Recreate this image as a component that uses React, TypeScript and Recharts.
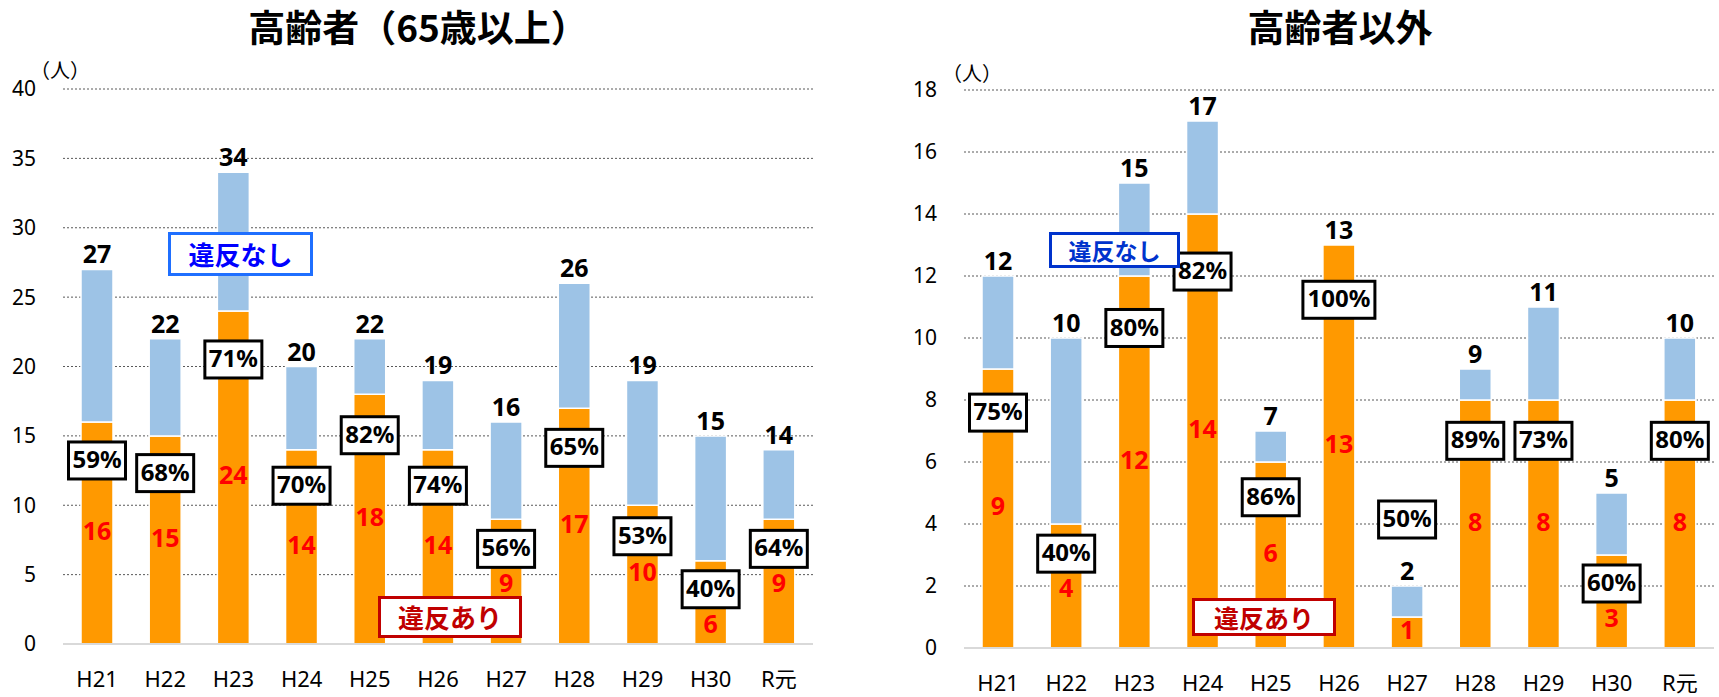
import { BarChart, Bar, XAxis, YAxis, CartesianGrid, LabelList } from "recharts";

const years = ["H21", "H22", "H23", "H24", "H25", "H26", "H27", "H28", "H29", "H30", "R元"];

// 高齢者（65歳以上）
const elderViolation = [16, 15, 24, 14, 18, 14, 9, 17, 10, 6, 9];
const elderNoViolation = [11, 7, 10, 6, 4, 5, 7, 9, 9, 9, 5];
const elderRate = [59, 68, 71, 70, 82, 74, 56, 65, 53, 40, 64];
const elderTicks = [0, 5, 10, 15, 20, 25, 30, 35, 40];

// 高齢者以外
const otherViolation = [9, 4, 12, 14, 6, 13, 1, 8, 8, 3, 8];
const otherNoViolation = [3, 6, 3, 3, 1, 0, 1, 1, 3, 2, 2];
const otherRate = [75, 40, 80, 82, 86, 100, 50, 89, 73, 60, 80];
const otherTicks = [0, 2, 4, 6, 8, 10, 12, 14, 16, 18];

const ORANGE = "#FF9900";
const BLUE = "#9DC3E6";
const FONT = "'Noto Sans', 'Noto Sans CJK JP', sans-serif";
const JP = "'Noto Sans CJK JP', sans-serif";

const buildRows = (v: number[], n: number[], r: number[]) =>
  years.map((year, i) => ({
    year,
    violation: v[i],
    none: n[i],
    total: v[i] + n[i],
    rate: r[i],
  }));

const elderRows = buildRows(elderViolation, elderNoViolation, elderRate);
const otherRows = buildRows(otherViolation, otherNoViolation, otherRate);

// all labels of one column, drawn from the geometry of the orange (lower) segment
const columnLabels = (rows: any[]) => (props: any) => {
  const vb = props.viewBox ?? props;
  const x = vb.x ?? props.x;
  const y = vb.y ?? props.y;
  const width = vb.width ?? props.width;
  const height = vb.height ?? props.height;
  const row = rows[props.index];
  if (!row || x == null) return null;

  const cx = x + width / 2;
  const unit = height / row.violation;
  const topY = y - unit * row.none;

  const text = `${row.rate}%`;
  const boxW = text.length * 15 + 12;
  const boxH = 37;
  // small orange segment: the box floats above the column
  const boxTop = height < 60 ? topY - 48 - boxH : y + Math.max(10, height * 0.09);
  const redY = height < 60 ? y + height / 2 : Math.max(y + height / 2, boxTop + boxH + 18);

  return (
    <g>
      <text
        x={cx}
        y={topY - 6}
        textAnchor="middle"
        fontSize={25}
        fontWeight="bold"
        fontFamily={FONT}
        fill="#000"
      >
        {row.total}
      </text>
      <rect x={cx - boxW / 2} y={boxTop} width={boxW} height={boxH} fill="#fff" stroke="#000" strokeWidth={3} />
      <text
        x={cx}
        y={boxTop + boxH / 2 + 1}
        textAnchor="middle"
        dominantBaseline="middle"
        fontSize={24}
        fontWeight="bold"
        fontFamily={FONT}
        fill="#000"
      >
        {text}
      </text>
      <text
        x={cx}
        y={redY}
        textAnchor="middle"
        dominantBaseline="middle"
        fontSize={25}
        fontWeight="bold"
        fontFamily={FONT}
        fill="#FF0000"
      >
        {row.violation}
      </text>
    </g>
  );
};

function Panel({ rows, ticks, max, width, yWidth, top, right, xHeight }: any) {
  return (
    <BarChart
      width={width}
      height={697}
      data={rows}
      margin={{ top, right, bottom: 0, left: 0 }}
      barSize={32}
    >
      <CartesianGrid vertical={false} stroke="#595959" strokeDasharray="2 2" />
      <XAxis
        dataKey="year"
        height={xHeight}
        tickLine={false}
        axisLine={{ stroke: "#D9D9D9", strokeWidth: 2 }}
        tickSize={6}
        tickMargin={21}
        tick={{ fontSize: 22, fill: "#000", fontFamily: FONT }}
        interval={0}
      />
      <YAxis
        width={yWidth}
        domain={[0, max]}
        ticks={ticks}
        axisLine={false}
        tickLine={false}
        tickSize={6}
        tickMargin={21}
        tick={{ fontSize: 21, fill: "#000", fontFamily: FONT }}
        interval={0}
      />
      <Bar dataKey="violation" stackId="a" fill={ORANGE} stroke="#fff" strokeWidth={1.5} isAnimationActive={false}>
        <LabelList dataKey="violation" content={columnLabels(rows)} />
      </Bar>
      <Bar dataKey="none" stackId="a" fill={BLUE} stroke="#fff" strokeWidth={1.5} isAnimationActive={false} />
    </BarChart>
  );
}

const legendBox = (
  text: string,
  left: number,
  top: number,
  w: number,
  h: number,
  color: string,
  border: string,
  size: number
) => (
  <div
    style={{
      position: "absolute",
      left,
      top,
      width: w,
      height: h,
      boxSizing: "border-box",
      border: `3px solid ${border}`,
      background: "#fff",
      color,
      fontFamily: JP,
      fontWeight: "bold",
      fontSize: size,
      display: "flex",
      alignItems: "center",
      justifyContent: "center",
      lineHeight: 1,
    }}
  >
    {text}
  </div>
);

export default function App() {
  return (
    <div
      style={{
        position: "absolute",
        left: 0,
        top: 0,
        width: 1719,
        height: 697,
        background: "#fff",
        fontFamily: FONT,
        overflow: "hidden",
      }}
    >
      <div style={{ position: "absolute", left: 0, top: 0 }}>
        <Panel rows={elderRows} ticks={elderTicks} max={40} width={840} yWidth={63} top={89} right={27} xHeight={53} />
      </div>
      <div style={{ position: "absolute", left: 840, top: 0 }}>
        <Panel rows={otherRows} ticks={otherTicks} max={18} width={879} yWidth={124} top={90} right={5} xHeight={49} />
      </div>

      <div
        style={{
          position: "absolute",
          left: 218,
          top: 4,
          width: 400,
          textAlign: "center",
          fontFamily: JP,
          fontWeight: "bold",
          fontSize: 37,
          lineHeight: "44px",
        }}
      >
        高齢者（65歳以上）
      </div>
      <div
        style={{
          position: "absolute",
          left: 1140,
          top: 4,
          width: 400,
          textAlign: "center",
          fontFamily: JP,
          fontWeight: "bold",
          fontSize: 37,
          lineHeight: "44px",
        }}
      >
        高齢者以外
      </div>

      <div style={{ position: "absolute", left: 30, top: 56, fontFamily: JP, fontSize: 20, lineHeight: "28px" }}>
        （人）
      </div>
      <div style={{ position: "absolute", left: 942, top: 59, fontFamily: JP, fontSize: 20, lineHeight: "28px" }}>
        （人）
      </div>

      {legendBox("違反なし", 168, 232, 145, 44, "#0000FF", "#1F6FFF", 26)}
      {legendBox("違反あり", 378, 596, 144, 42, "#C00000", "#C00000", 26)}
      {legendBox("違反なし", 1049, 232, 131, 36, "#0033CC", "#0033CC", 23)}
      {legendBox("違反あり", 1192, 598, 144, 38, "#C00000", "#C00000", 25)}
    </div>
  );
}
